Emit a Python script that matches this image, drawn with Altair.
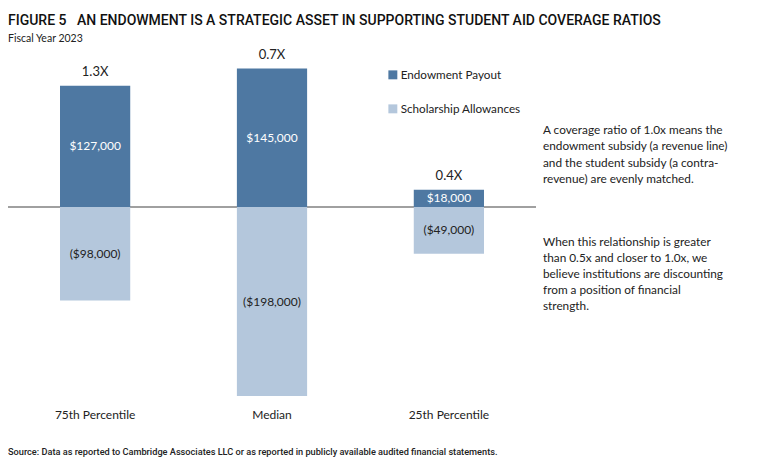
import altair as alt
import pandas as pd

categories = ["75th Percentile", "Median", "25th Percentile"]
payout = [127000, 145000, 18000]
scholarship = [-98000, -198000, -49000]
ratio_labels = ["1.3X", "0.7X", "0.4X"]
payout_labels = ["$127,000", "$145,000", "$18,000"]
scholarship_labels = ["($98,000)", "($198,000)", "($49,000)"]
series = ["Endowment Payout", "Scholarship Allowances"]
colors = ["#4e78a2", "#b4c7dc"]

title_text = "FIGURE 5\u00a0\u00a0\u00a0AN ENDOWMENT IS A STRATEGIC ASSET IN SUPPORTING STUDENT AID COVERAGE RATIOS"
subtitle_text = "Fiscal Year 2023"
note1 = ["A coverage ratio of 1.0x means the", "endowment subsidy (a revenue line)",
         "and the student subsidy (a contra-", "revenue) are evenly matched."]
note2 = ["When this relationship is greater", "than 0.5x and closer to 1.0x, we",
         "believe institutions are discounting", "from a position of financial", "strength."]
source = "Source: Data as reported to Cambridge Associates LLC or as reported in publicly available audited financial statements."

rows = []
for i, c in enumerate(categories):
    rows.append({"cat": c, "series": series[0], "value": payout[i], "label": payout_labels[i],
                 "ratio": ratio_labels[i], "tc": "white"})
    rows.append({"cat": c, "series": series[1], "value": scholarship[i], "label": scholarship_labels[i],
                 "ratio": "", "tc": "#222222"})
df = pd.DataFrame(rows)

FONT = "Lato"
xscale = alt.Scale(domain=categories, range=[0, 528], paddingInner=0.603, paddingOuter=0.294)
yscale = alt.Scale(domain=[-202100, 153900], nice=False, zero=False)

base = alt.Chart(df)

zero = alt.Chart(pd.DataFrame({"z": [0]})).mark_rule(color="#808080", strokeWidth=1.5).encode(
    y=alt.Y("z:Q", scale=yscale, axis=None), x=alt.value(0), x2=alt.value(528))

bars = base.mark_bar().encode(
    x=alt.X("cat:N", scale=xscale, sort=categories,
            axis=alt.Axis(title=None, domain=False, ticks=False, labelAngle=0, labelFont=FONT,
                          labelFontSize=12, labelColor="#222222", labelPadding=9)),
    y=alt.Y("value:Q", scale=yscale, stack=None, axis=None),
    color=alt.Color("series:N", scale=alt.Scale(domain=series, range=colors),
                    legend=alt.Legend(title=None, orient="none", legendX=379, legendY=9,
                                      symbolType="square", symbolSize=80, symbolStrokeWidth=0,
                                      labelFont=FONT, labelFontSize=11.7, labelColor="#222222",
                                      rowPadding=21, labelOffset=2)),
)

vlabels = base.transform_calculate(mid="datum.value/2").mark_text(
    font=FONT, fontSize=12, baseline="middle").encode(
    x=alt.X("cat:N", scale=xscale, sort=categories),
    y=alt.Y("mid:Q", scale=yscale),
    text="label:N",
    color=alt.Color("tc:N", scale=None),
)

rlabels = base.transform_filter("datum.ratio != ''").mark_text(
    font=FONT, fontSize=13, baseline="bottom", dy=-7, color="#222222").encode(
    x=alt.X("cat:N", scale=xscale, sort=categories),
    y=alt.Y("value:Q", scale=yscale),
    text="ratio:N",
)

n1 = alt.Chart(pd.DataFrame({"t": ["\n".join(note1)]})).mark_text(
    font=FONT, fontSize=11.8, align="left", baseline="middle", lineHeight=16.3, lineBreak="\n",
    color="#222222").encode(x=alt.value(535), y=alt.value(70), text="t:N")
n2 = alt.Chart(pd.DataFrame({"t": ["\n".join(note2)]})).mark_text(
    font=FONT, fontSize=11.8, align="left", baseline="middle", lineHeight=16.1, lineBreak="\n",
    color="#222222").encode(x=alt.value(535), y=alt.value(182), text="t:N")
src = alt.Chart(pd.DataFrame({"t": [source]})).mark_text(
    font="Roboto", fontSize=9.2, fontWeight=500, align="left", baseline="middle", color="#222222").encode(
    x=alt.value(0), y=alt.value(392), text="t:N")

chart = alt.layer(zero, bars, vlabels, rlabels, n1, n2, src).properties(
    width=744, height=340,
    title=alt.TitleParams(
        text=title_text,
        subtitle=subtitle_text, anchor="start", frame="group", offset=4,
        font="Roboto", fontSize=14, fontWeight=500, color="#111111",
        subtitleFont="Lato", subtitleFontSize=10.5, subtitleColor="#222222",
        subtitlePadding=6),
).configure(
    autosize=alt.AutoSizeParams(type="none"),
    padding={"left": 0, "top": 52, "right": 0, "bottom": 63},
).configure_view(stroke=None)

chart.save("out.html", embed_options={"renderer": "svg", "actions": False})
